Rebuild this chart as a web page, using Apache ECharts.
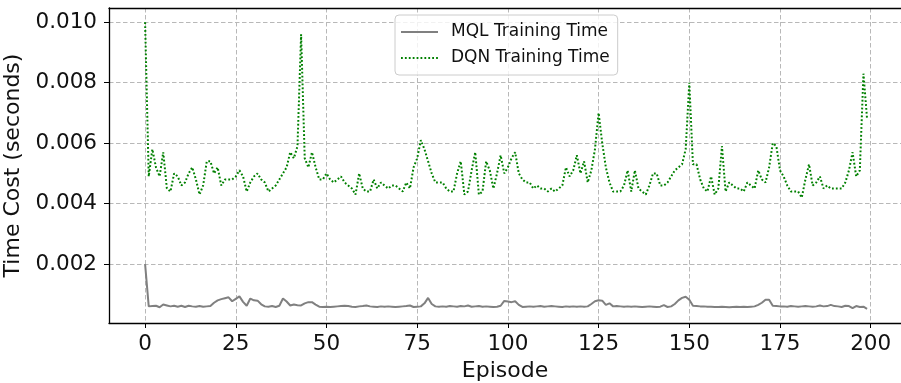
<!DOCTYPE html>
<html><head><meta charset="utf-8">
<script src="https://cdn.jsdelivr.net/npm/echarts@6/dist/echarts.min.js"></script>
<style>html,body{margin:0;padding:0;background:#fff}#c{width:901px;height:383px}</style>
</head><body><div id="c"></div><script>
const episodes = Array.from({length: 200}, (_, i) => i);
const mqlTime = [
0.00200,0.00060,0.00061,0.00062,0.00057,0.00066,0.00063,0.00060,0.00062,0.00059,
0.00062,0.00058,0.00062,0.00060,0.00059,0.00061,0.00059,0.00060,0.00061,0.00072,
0.00080,0.00084,0.00087,0.00090,0.00077,0.00085,0.00093,0.00075,0.00062,0.00086,
0.00080,0.00079,0.00067,0.00060,0.00059,0.00061,0.00058,0.00062,0.00086,0.00076,
0.00063,0.00066,0.00064,0.00063,0.00070,0.00074,0.00074,0.00066,0.00059,0.00058,
0.00059,0.00058,0.00059,0.00060,0.00061,0.00062,0.00061,0.00059,0.00058,0.00060,
0.00061,0.00063,0.00060,0.00059,0.00058,0.00060,0.00059,0.00060,0.00059,0.00058,
0.00059,0.00060,0.00061,0.00063,0.00058,0.00059,0.00060,0.00070,0.00088,0.00068,
0.00060,0.00059,0.00060,0.00059,0.00061,0.00060,0.00059,0.00061,0.00060,0.00063,
0.00059,0.00060,0.00061,0.00059,0.00060,0.00059,0.00058,0.00059,0.00062,0.00078,
0.00076,0.00074,0.00077,0.00065,0.00058,0.00059,0.00060,0.00059,0.00060,0.00061,
0.00059,0.00060,0.00061,0.00060,0.00059,0.00058,0.00060,0.00059,0.00060,0.00059,
0.00060,0.00059,0.00060,0.00068,0.00077,0.00080,0.00079,0.00065,0.00070,0.00060,
0.00061,0.00060,0.00059,0.00060,0.00059,0.00060,0.00059,0.00058,0.00059,0.00060,
0.00059,0.00058,0.00059,0.00064,0.00058,0.00060,0.00068,0.00080,0.00088,0.00092,
0.00082,0.00062,0.00061,0.00060,0.00060,0.00059,0.00059,0.00058,0.00058,0.00059,
0.00058,0.00057,0.00058,0.00059,0.00058,0.00059,0.00058,0.00059,0.00060,0.00065,
0.00072,0.00082,0.00082,0.00062,0.00061,0.00060,0.00060,0.00059,0.00061,0.00060,
0.00059,0.00060,0.00061,0.00060,0.00059,0.00060,0.00063,0.00060,0.00061,0.00065,
0.00061,0.00060,0.00058,0.00062,0.00061,0.00054,0.00061,0.00058,0.00059,0.00052
];
const dqnTime = [
0.0100,0.0049,0.0058,0.0052,0.0049,0.0057,0.0045,0.0044,0.0050,0.0049,
0.0046,0.0047,0.0050,0.0052,0.0048,0.0043,0.0046,0.0054,0.0054,0.0050,
0.0052,0.0046,0.0048,0.0048,0.0048,0.0049,0.0051,0.0049,0.0044,0.0047,
0.0049,0.0050,0.0048,0.0047,0.0044,0.0045,0.0046,0.0048,0.0050,0.0052,
0.0057,0.0055,0.0059,0.0096,0.0055,0.0052,0.0057,0.0052,0.0048,0.0048,
0.0050,0.0048,0.0047,0.0048,0.0049,0.0047,0.0046,0.0045,0.0043,0.0050,
0.0045,0.0044,0.0044,0.0048,0.0045,0.0047,0.0046,0.0045,0.0046,0.0046,
0.0045,0.0044,0.0047,0.0045,0.0052,0.0055,0.0061,0.0058,0.0054,0.0050,
0.0047,0.0047,0.0047,0.0045,0.0044,0.0044,0.0050,0.0054,0.0043,0.0044,
0.0051,0.0057,0.0043,0.0044,0.0054,0.0051,0.0045,0.0050,0.0056,0.0050,
0.0052,0.0055,0.0057,0.0050,0.0048,0.0047,0.0047,0.0045,0.0046,0.0045,
0.0045,0.0044,0.0045,0.0044,0.0045,0.0046,0.0052,0.0049,0.0051,0.0056,
0.0050,0.0054,0.0047,0.0051,0.0058,0.0070,0.0060,0.0052,0.0047,0.0044,
0.0044,0.0044,0.0046,0.0051,0.0044,0.0051,0.0045,0.0044,0.0043,0.0046,
0.0050,0.0050,0.0046,0.0046,0.0047,0.0049,0.0051,0.0052,0.0053,0.0058,
0.0080,0.0053,0.0053,0.0048,0.0045,0.0044,0.0049,0.0043,0.0045,0.0059,
0.0044,0.0047,0.0046,0.0045,0.0045,0.0044,0.0047,0.0046,0.0045,0.0051,
0.0048,0.0047,0.0052,0.0060,0.0059,0.0051,0.0049,0.0046,0.0044,0.0044,
0.0044,0.0042,0.0048,0.0053,0.0046,0.0047,0.0049,0.0045,0.0046,0.0045,
0.0045,0.0045,0.0045,0.0047,0.0051,0.0057,0.0049,0.0051,0.0083,0.0068
];
const xTicks = [0, 25, 50, 75, 100, 125, 150, 175, 200];
const yTicks = [0.002, 0.004, 0.006, 0.008, 0.010];
const seriesNames = ['MQL Training Time', 'DQN Training Time'];

const FONT = 'DejaVu Sans';
const gridLine = {show: true, lineStyle: {color: '#b8b8b8', width: 1, type: [4.5, 2.5]}};
const chart = echarts.init(document.getElementById('c'), null, {renderer: 'canvas'});
chart.setOption({
  animation: false,
  backgroundColor: '#fff',
  textStyle: {fontFamily: FONT},
  grid: {left: 109, right: 0, top: 8, bottom: 60, containLabel: false, outerBoundsMode: 'none'},
  legend: {
    orient: 'vertical', left: 395, top: 15,
    data: seriesNames,
    itemWidth: 37, itemHeight: 14, itemGap: 6,
    padding: [7, 8, 7, 5],
    backgroundColor: 'rgba(255,255,255,0.8)',
    borderColor: '#cccccc', borderWidth: 1, borderRadius: 4,
    itemStyle: {opacity: 0},
    textStyle: {fontFamily: FONT, fontSize: 17, color: '#111', lineHeight: 20, padding: [0, 0, 0, 8]}
  },
  xAxis: [{
    type: 'value', min: -9.95, max: 208.35,
    name: 'Episode', nameLocation: 'middle', nameGap: 35,
    nameTextStyle: {fontFamily: FONT, fontSize: 22, color: '#111'},
    axisLine: {show: true, onZero: false, lineStyle: {color: '#000', width: 1.3}},
    axisTick: {show: true, length: 5, lineStyle: {color: '#000', width: 1}, customValues: xTicks},
    axisLabel: {show: true, margin: 10, fontFamily: FONT, fontSize: 21.5, color: '#111', customValues: xTicks,
      formatter: v => String(v)},
    splitLine: gridLine
  }, {
    type: 'value', min: -9.95, max: 208.35, position: 'top',
    axisLine: {show: true, onZero: false, lineStyle: {color: '#000', width: 1.3}},
    axisTick: {show: false}, axisLabel: {show: false}, splitLine: {show: false}
  }],
  yAxis: {
    type: 'value', min: 0.00005, max: 0.010473,
    name: 'Time Cost (seconds)', nameLocation: 'middle', nameGap: 79,
    nameTextStyle: {fontFamily: FONT, fontSize: 22, color: '#111'},
    axisLine: {show: true, onZero: false, lineStyle: {color: '#000', width: 1.3}},
    axisTick: {show: true, length: 5, lineStyle: {color: '#000', width: 1}, customValues: yTicks},
    axisLabel: {show: true, margin: 12, fontFamily: FONT, fontSize: 21.5, color: '#111', customValues: yTicks,
      formatter: v => v.toFixed(3)},
    splitLine: gridLine
  },
  series: [{
    name: seriesNames[0], type: 'line', xAxisIndex: 0,
    data: episodes.map((e, i) => [e, mqlTime[i]]),
    symbol: 'circle', showSymbol: false,
    itemStyle: {color: '#808080'},
    lineStyle: {color: '#808080', width: 2}
  }, {
    name: seriesNames[1], type: 'line', xAxisIndex: 0,
    data: episodes.map((e, i) => [e, dqnTime[i]]),
    symbol: 'circle', showSymbol: false,
    itemStyle: {color: '#008000'},
    lineStyle: {color: '#008000', width: 2, type: [1.8, 2.1]}
  }]
});
</script></body></html>
